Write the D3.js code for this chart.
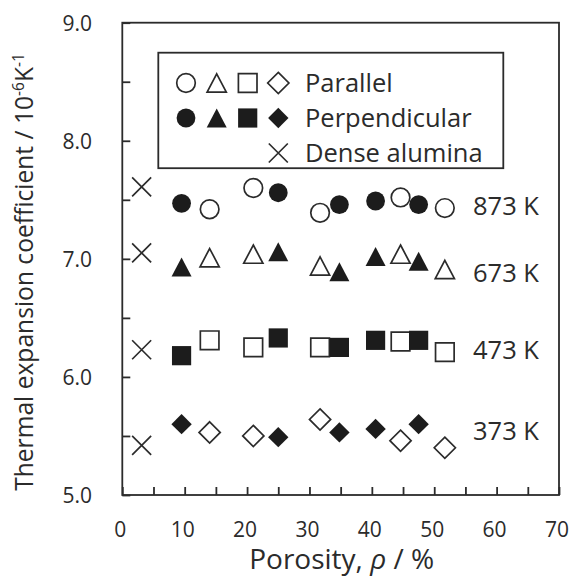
<!DOCTYPE html>
<html>
<head>
<meta charset="utf-8">
<script src="https://cdn.jsdelivr.net/npm/d3@7"></script>
<style>
  html, body { margin: 0; padding: 0; background: #fff; }
  svg { display: block; }
  text { font-family: "Open Sans", "Noto Sans", sans-serif; fill: #2b2b2b; }
</style>
</head>
<body>
<svg id="chart" width="571" height="577"></svg>
<script>
// Porosity (%) of the measured samples
const porosityParallel = [14.0, 21.0, 31.7, 44.6, 51.7];
const porosityPerpendicular = [9.5, 25.0, 34.8, 40.6, 47.5];
const porosityDense = 3.1;

// Temperatures, one row of points each
const temperatures = ["873 K", "673 K", "473 K", "373 K"];

// Thermal expansion coefficient (10^-6 K^-1), parallel direction
const cteParallel873 = [7.42, 7.60, 7.39, 7.52, 7.43];
const cteParallel673 = [7.01, 7.04, 6.94, 7.04, 6.91];
const cteParallel473 = [6.31, 6.25, 6.25, 6.30, 6.21];
const cteParallel373 = [5.53, 5.50, 5.64, 5.46, 5.40];

// Perpendicular direction
const ctePerpendicular873 = [7.47, 7.56, 7.46, 7.49, 7.46];
const ctePerpendicular673 = [6.93, 7.06, 6.89, 7.02, 6.98];
const ctePerpendicular473 = [6.18, 6.33, 6.25, 6.31, 6.31];
const ctePerpendicular373 = [5.60, 5.49, 5.53, 5.56, 5.60];

// Dense alumina reference, one value per temperature
const cteDense = [7.61, 7.05, 6.23, 5.42];

// Axis ticks
const xTickValues = [0, 10, 20, 30, 40, 50, 60, 70];
const yTickValues = [5.0, 6.0, 7.0, 8.0, 9.0];

// Legend entries
const legendLabels = ["Parallel", "Perpendicular", "Dense alumina"];

// ---------------------------------------------------------------
const svg = d3.select("#chart");
const ink = "#2b2b2b";
const fillInk = "#1c1c1c";

const x = d3.scaleLinear().domain([0, 70]).range([122.3, 559]);
const y = d3.scaleLinear().domain([5, 9]).range([495, 22.7]);

// Marker shapes; size is the half-width of the marker in pixels
const shapeCircle = { draw(ctx, s) { ctx.moveTo(s, 0); ctx.arc(0, 0, s, 0, 2 * Math.PI); } };
const shapeTriangle = { draw(ctx, s) {
  const h = s * 0.95;
  ctx.moveTo(0, -h); ctx.lineTo(s, h); ctx.lineTo(-s, h); ctx.closePath();
} };
const shapeSquare = { draw(ctx, s) { ctx.rect(-s, -s, 2 * s, 2 * s); } };
const shapeDiamond = { draw(ctx, s) {
  ctx.moveTo(0, -s); ctx.lineTo(s, 0); ctx.lineTo(0, s); ctx.lineTo(-s, 0); ctx.closePath();
} };
const shapeCross = { draw(ctx, s) {
  ctx.moveTo(-s, -s); ctx.lineTo(s, s); ctx.moveTo(s, -s); ctx.lineTo(-s, s);
} };

const shapes = [shapeCircle, shapeTriangle, shapeSquare, shapeDiamond];
const filledSize = [9.4, 10, 9.6, 10.2];
const openSize = [9.3, 9.6, 9.3, 10.6];

const parallelRows = [cteParallel873, cteParallel673, cteParallel473, cteParallel373];
const perpendicularRows = [ctePerpendicular873, ctePerpendicular673, ctePerpendicular473, ctePerpendicular373];

const symbolPath = (shape, s) => d3.symbol().type(shape).size(s)();

// Frame
const plot = svg.append("g");
plot.append("rect")
  .attr("x", x(0)).attr("y", y(9))
  .attr("width", x(70) - x(0)).attr("height", y(5) - y(9))
  .attr("fill", "none").attr("stroke", ink).attr("stroke-width", 1.8);

// Inward ticks: x every 5 %, y every 0.5
const xAxis = d3.axisTop(x).tickValues(d3.range(0, 71, 5)).tickSize(8).tickFormat("");
const xg = plot.append("g").attr("transform", `translate(0,${y(5)})`).call(xAxis);
const yAxis = d3.axisRight(y).tickValues(d3.range(5, 9.01, 0.5)).tickSize(8).tickFormat("");
const yg = plot.append("g").attr("transform", `translate(${x(0)},0)`).call(yAxis);
[xg, yg].forEach(g => {
  g.select(".domain").remove();
  g.selectAll("line").attr("stroke", ink).attr("stroke-width", 1.8);
});

// Tick labels
svg.append("g").selectAll("text").data(xTickValues).join("text")
  .attr("x", d => x(d) - 2).attr("y", 529)
  .attr("text-anchor", "middle").attr("dominant-baseline", "central")
  .attr("font-size", 21).text(d => d);
svg.append("g").selectAll("text").data(yTickValues).join("text")
  .attr("x", 92).attr("y", d => y(d))
  .attr("text-anchor", "end").attr("dominant-baseline", "central")
  .attr("font-size", 21).text(d => d.toFixed(1));

// Axis titles
svg.append("text")
  .attr("x", (x(0) + x(70)) / 2 + 1).attr("y", 569)
  .attr("text-anchor", "middle").attr("font-size", 28)
  .html('Porosity, <tspan font-style="italic">ρ</tspan> / %');

const yTitle = svg.append("text")
  .attr("transform", `translate(33,272) rotate(-90)`)
  .attr("text-anchor", "middle").attr("font-size", 24.6);
yTitle.append("tspan").text("Thermal expansion coefficient / 10");
yTitle.append("tspan").attr("font-size", 15.5).attr("dy", -9.5).text("-6");
yTitle.append("tspan").attr("dy", 9.5).text("K");
yTitle.append("tspan").attr("font-size", 15.5).attr("dy", -9.5).text("-1");

// Data points
const points = svg.append("g");
temperatures.forEach((t, i) => {
  const shape = shapes[i];
  // open markers: parallel
  points.append("g").selectAll("path").data(parallelRows[i]).join("path")
    .attr("transform", (d, j) => `translate(${x(porosityParallel[j])},${y(d)})`)
    .attr("d", symbolPath(shape, openSize[i]))
    .attr("fill", "#fff").attr("stroke", ink).attr("stroke-width", 1.7);
  // filled markers: perpendicular
  points.append("g").selectAll("path").data(perpendicularRows[i]).join("path")
    .attr("transform", (d, j) => `translate(${x(porosityPerpendicular[j])},${y(d)})`)
    .attr("d", symbolPath(shape, filledSize[i]))
    .attr("fill", fillInk).attr("stroke", "none");
});

// Dense alumina crosses
points.append("g").selectAll("path").data(cteDense).join("path")
  .attr("transform", d => `translate(${x(porosityDense)},${y(d)})`)
  .attr("d", symbolPath(shapeCross, 9.5))
  .attr("fill", "none").attr("stroke", ink).attr("stroke-width", 1.7);

// Temperature labels beside each row
const tempLabelY = [205, 271.5, 348.5, 430];
svg.append("g").selectAll("text").data(temperatures).join("text")
  .attr("x", 473).attr("y", (d, i) => tempLabelY[i])
  .attr("dominant-baseline", "central").attr("font-size", 25.5)
  .text(d => d);

// Legend
const legend = svg.append("g");
legend.append("rect")
  .attr("x", 158.3).attr("y", 52.7).attr("width", 345).attr("height", 115.5)
  .attr("fill", "#fff").attr("stroke", ink).attr("stroke-width", 1.8);
const legendRowY = [83, 118, 153];
const legendColX = [186, 216.7, 247.7, 278.3];
shapes.forEach((shape, c) => {
  legend.append("path")
    .attr("transform", `translate(${legendColX[c]},${legendRowY[0]})`)
    .attr("d", symbolPath(shape, openSize[c]))
    .attr("fill", "#fff").attr("stroke", ink).attr("stroke-width", 1.7);
  legend.append("path")
    .attr("transform", `translate(${legendColX[c]},${legendRowY[1]})`)
    .attr("d", symbolPath(shape, filledSize[c]))
    .attr("fill", fillInk);
});
legend.append("path")
  .attr("transform", `translate(${legendColX[3]},${legendRowY[2]})`)
  .attr("d", symbolPath(shapeCross, 9.5))
  .attr("fill", "none").attr("stroke", ink).attr("stroke-width", 1.7);
legend.selectAll("text").data(legendLabels).join("text")
  .attr("x", 305).attr("y", (d, i) => legendRowY[i] - 1.3)
  .attr("dominant-baseline", "central").attr("font-size", 25.5)
  .text(d => d);
</script>
</body>
</html>
